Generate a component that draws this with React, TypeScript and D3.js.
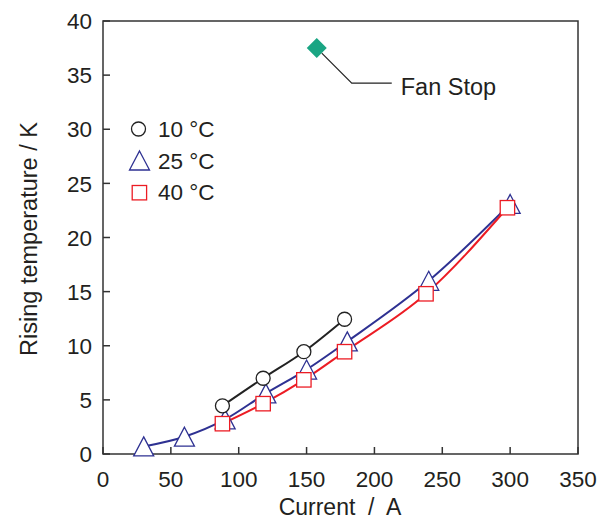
import React from 'react'
import * as d3 from 'd3'

// 10 degC series (circles)
const c10X = [88, 118, 148, 178]
const c10Y = [4.45, 7.0, 9.45, 12.45]
// 25 degC series (triangles)
const c25X = [30, 60, 90, 120, 150, 180, 240, 300]
const c25Y = [0.7, 1.6, 3.2, 5.6, 7.8, 10.4, 16.0, 23.1]
// 40 degC series (squares)
const c40X = [88, 118, 148, 178, 238, 298]
const c40Y = [2.8, 4.65, 6.85, 9.45, 14.8, 22.75]
// fan stop point
const fanX = [157.5]
const fanY = [37.5]

const xTicks = [0, 50, 100, 150, 200, 250, 300, 350]
const yTicks = [0, 5, 10, 15, 20, 25, 30, 35, 40]
const legendLabels = ['10 °C', '25 °C', '40 °C']

const W = 607
const H = 521
const margin = { top: 21, right: 29, bottom: 67, left: 103 }

export default function App() {
  const x = d3.scaleLinear().domain([0, 350]).range([margin.left, W - margin.right])
  const y = d3.scaleLinear().domain([0, 40]).range([H - margin.bottom, margin.top])

  const line = d3.line<[number, number]>()
    .x(d => x(d[0]))
    .y(d => y(d[1]))
    .curve(d3.curveMonotoneX)

  const s10 = c10X.map((v, i) => [v, c10Y[i]] as [number, number])
  const s25 = c25X.map((v, i) => [v, c25Y[i]] as [number, number])
  const s40 = c40X.map((v, i) => [v, c40Y[i]] as [number, number])

  const black = '#222'
  const blue = '#2e3192'
  const red = '#ec1c24'
  const axisCol = '#333'
  const txt = '#231f20'
  const font = 'Liberation Sans, Arial, sans-serif'

  const tri = (cx: number, cy: number) => `M${cx},${cy - 9.5}L${cx + 10},${cy + 9.5}L${cx - 10},${cy + 9.5}Z`

  const x0 = x(0), x1 = x(350), y0 = y(0), y1 = y(40)
  const fx = x(fanX[0]), fy = y(fanY[0])

  return (
    <svg width={W} height={H} style={{ position: 'absolute', left: 0, top: 0 }} fontFamily={font}>
      <rect x={0} y={0} width={W} height={H} fill="#fff" />
      {/* frame */}
      <rect x={x0} y={y1} width={x1 - x0} height={y0 - y1} fill="none" stroke={axisCol} strokeWidth={1.5} />
      {/* ticks */}
      {xTicks.map(t => (
        <g key={'x' + t}>
          <line x1={x(t)} x2={x(t)} y1={y0} y2={y0 - 7} stroke={axisCol} strokeWidth={1.5} />
          <text x={x(t)} y={y0 + 33} textAnchor="middle" fontSize={22.5} fill={txt}>{t}</text>
        </g>
      ))}
      {yTicks.map(t => (
        <g key={'y' + t}>
          <line x1={x0} x2={x0 + 7} y1={y(t)} y2={y(t)} stroke={axisCol} strokeWidth={1.5} />
          <text x={x0 - 11} y={y(t) + 8.2} textAnchor="end" fontSize={22.5} fill={txt}>{t}</text>
        </g>
      ))}
      <text x={340} y={515} textAnchor="middle" fontSize={23} fill={txt} xmlSpace="preserve">Current  /  A</text>
      <text transform={`translate(37,239) rotate(-90)`} textAnchor="middle" fontSize={23.5} fill={txt}>Rising temperature / K</text>

      {/* lines */}
      <path d={line(s10) || ''} fill="none" stroke={black} strokeWidth={2} />
      <path d={line(s25) || ''} fill="none" stroke={blue} strokeWidth={2} />
      <path d={line(s40) || ''} fill="none" stroke={red} strokeWidth={2} />

      {/* markers */}
      {s25.map((d, i) => (
        <path key={'t' + i} d={tri(x(d[0]), y(d[1]))} fill="#fff" stroke={blue} strokeWidth={1.3} />
      ))}
      {s10.map((d, i) => (
        <circle key={'c' + i} cx={x(d[0])} cy={y(d[1])} r={7} fill="#fff" stroke={black} strokeWidth={1.3} />
      ))}
      {s40.map((d, i) => (
        <rect key={'s' + i} x={x(d[0]) - 7.2} y={y(d[1]) - 7.2} width={14.4} height={14.4} fill="#fff" stroke={red} strokeWidth={1.3} />
      ))}

      {/* fan stop */}
      <polyline points={`${fx + 5},${fy + 5} ${fx + 35},${fy + 35} ${fx + 75},${fy + 35}`} fill="none" stroke="#222" strokeWidth={1.2} />
      <path d={`M${fx},${fy - 10}L${fx + 10},${fy}L${fx},${fy + 10}L${fx - 10},${fy}Z`} fill="#1aa583" />
      <text x={fx + 84} y={fy + 47} fontSize={23.5} fill={txt}>Fan Stop</text>

      {/* legend */}
      <circle cx={138.5} cy={129} r={7} fill="#fff" stroke={black} strokeWidth={1.3} />
      <path d={tri(139.5, 160.5)} fill="#fff" stroke={blue} strokeWidth={1.3} />
      <rect x={132.2} y={185.5} width={14.4} height={14.4} fill="#fff" stroke={red} strokeWidth={1.3} />
      {legendLabels.map((l, i) => (
        <text key={l} x={158} y={137 + i * 31.6} fontSize={22.5} fill={txt}>{l}</text>
      ))}
    </svg>
  )
}
